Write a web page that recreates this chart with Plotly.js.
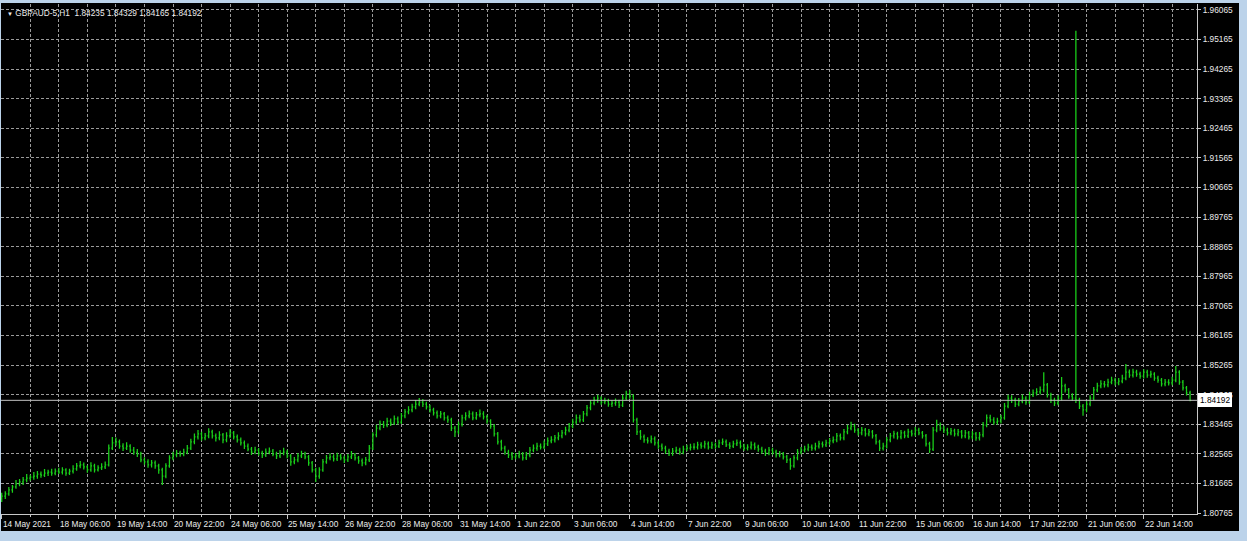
<!DOCTYPE html>
<html>
<head>
<meta charset="utf-8">
<script src="https://cdn.plot.ly/plotly-3.0.1.min.js"></script>
<style>
  html, body { margin: 0; padding: 0; width: 1247px; height: 541px; overflow: hidden; background: #bcd3ea; }
  #chart { position: absolute; left: 1px; top: 3px; width: 1238px; height: 528px; background: #000; }
</style>
</head>
<body>
<div id="chart"></div>
<script>
// GBPAUD-5, bars aggregated (2 bars of H1 per entry)
const openP = [
1.8122,1.8128,1.8135,1.8147,1.8156,1.8165,1.8171,1.8177,1.8183,1.8186,1.8189,1.8195,1.8192,1.8198,1.8201,1.8198,1.8204,1.8201,1.8208,1.8198,
1.8204,1.8211,1.8220,1.8223,1.8217,1.8208,1.8220,1.8208,1.8214,1.8217,1.8223,1.8274,1.8290,1.8293,1.8280,1.8274,1.8280,1.8268,1.8262,1.8256,
1.8238,1.8232,1.8223,1.8229,1.8220,1.8208,1.8189,1.8220,1.8244,1.8253,1.8259,1.8256,1.8262,1.8274,1.8293,1.8308,1.8317,1.8305,1.8311,1.8323,
1.8311,1.8305,1.8314,1.8299,1.8311,1.8320,1.8308,1.8299,1.8290,1.8280,1.8271,1.8262,1.8268,1.8259,1.8253,1.8262,1.8265,1.8256,1.8250,1.8259,
1.8262,1.8250,1.8232,1.8238,1.8250,1.8256,1.8247,1.8229,1.8208,1.8189,1.8208,1.8232,1.8244,1.8247,1.8241,1.8250,1.8244,1.8238,1.8247,1.8253,
1.8244,1.8235,1.8229,1.8238,1.8274,1.8314,1.8335,1.8347,1.8344,1.8356,1.8350,1.8363,1.8353,1.8372,1.8384,1.8390,1.8399,1.8408,1.8414,1.8408,
1.8399,1.8390,1.8381,1.8372,1.8378,1.8366,1.8360,1.8335,1.8323,1.8347,1.8366,1.8372,1.8378,1.8366,1.8375,1.8378,1.8369,1.8356,1.8341,1.8317,
1.8293,1.8274,1.8262,1.8253,1.8247,1.8250,1.8256,1.8244,1.8253,1.8268,1.8274,1.8280,1.8277,1.8287,1.8296,1.8299,1.8305,1.8311,1.8320,1.8329,
1.8341,1.8353,1.8366,1.8360,1.8378,1.8396,1.8411,1.8420,1.8426,1.8414,1.8417,1.8408,1.8411,1.8414,1.8405,1.8426,1.8439,1.8432,1.8360,1.8323,
1.8308,1.8299,1.8296,1.8302,1.8290,1.8280,1.8274,1.8265,1.8259,1.8265,1.8268,1.8262,1.8271,1.8274,1.8277,1.8277,1.8284,1.8280,1.8287,1.8277,
1.8284,1.8280,1.8290,1.8293,1.8284,1.8280,1.8287,1.8290,1.8280,1.8274,1.8277,1.8284,1.8277,1.8271,1.8265,1.8259,1.8268,1.8262,1.8253,1.8256,
1.8247,1.8238,1.8220,1.8244,1.8262,1.8268,1.8271,1.8277,1.8274,1.8280,1.8287,1.8284,1.8290,1.8296,1.8299,1.8311,1.8305,1.8323,1.8335,1.8341,
1.8329,1.8320,1.8329,1.8317,1.8323,1.8311,1.8293,1.8274,1.8280,1.8299,1.8311,1.8317,1.8308,1.8320,1.8311,1.8323,1.8317,1.8329,1.8320,1.8311,
1.8287,1.8271,1.8329,1.8344,1.8335,1.8329,1.8320,1.8326,1.8317,1.8323,1.8311,1.8320,1.8308,1.8317,1.8305,1.8314,1.8344,1.8366,1.8360,1.8353,
1.8356,1.8366,1.8402,1.8426,1.8420,1.8408,1.8417,1.8426,1.8414,1.8436,1.8442,1.8445,1.8451,1.8466,1.8436,1.8420,1.8411,1.8426,1.8463,1.8451,
1.8432,1.8426,1.8420,1.8402,1.8390,1.8408,1.8426,1.8451,1.8463,1.8469,1.8466,1.8475,1.8481,1.8472,1.8478,1.8487,1.8505,1.8496,1.8505,1.8499,
1.8493,1.8505,1.8496,1.8499,1.8487,1.8481,1.8469,1.8475,1.8472,1.8481,1.8505,1.8475,1.8457,1.8442
];
const highP = [
1.8138,1.8143,1.8156,1.8162,1.8177,1.8180,1.8186,1.8195,1.8193,1.8201,1.8204,1.8203,1.8210,1.8208,1.8211,1.8212,1.8214,1.8216,1.8213,1.8211,
1.8222,1.8229,1.8235,1.8230,1.8222,1.8231,1.8226,1.8222,1.8228,1.8233,1.8285,1.8308,1.8306,1.8300,1.8289,1.8292,1.8286,1.8277,1.8271,1.8263,
1.8246,1.8240,1.8238,1.8236,1.8226,1.8214,1.8228,1.8252,1.8263,1.8268,1.8266,1.8272,1.8283,1.8302,1.8318,1.8329,1.8324,1.8320,1.8334,1.8330,
1.8318,1.8325,1.8320,1.8322,1.8331,1.8326,1.8315,1.8306,1.8297,1.8288,1.8277,1.8278,1.8274,1.8266,1.8273,1.8276,1.8271,1.8263,1.8268,1.8275,
1.8269,1.8256,1.8247,1.8259,1.8266,1.8263,1.8253,1.8235,1.8214,1.8216,1.8241,1.8253,1.8258,1.8255,1.8260,1.8257,1.8251,1.8256,1.8265,1.8259,
1.8250,1.8242,1.8247,1.8283,1.8322,1.8345,1.8358,1.8356,1.8366,1.8364,1.8373,1.8370,1.8381,1.8393,1.8401,1.8409,1.8420,1.8426,1.8423,1.8415,
1.8406,1.8397,1.8388,1.8387,1.8384,1.8373,1.8366,1.8341,1.8355,1.8375,1.8383,1.8388,1.8385,1.8384,1.8391,1.8386,1.8375,1.8362,1.8347,1.8323,
1.8299,1.8281,1.8269,1.8262,1.8259,1.8266,1.8262,1.8262,1.8277,1.8285,1.8290,1.8288,1.8297,1.8306,1.8310,1.8314,1.8322,1.8329,1.8339,1.8350,
1.8363,1.8376,1.8375,1.8387,1.8405,1.8420,1.8430,1.8436,1.8432,1.8427,1.8424,1.8420,1.8425,1.8421,1.8436,1.8448,1.8451,1.8438,1.8366,1.8329,
1.8315,1.8307,1.8312,1.8309,1.8297,1.8288,1.8281,1.8272,1.8274,1.8278,1.8275,1.8281,1.8284,1.8287,1.8289,1.8293,1.8292,1.8296,1.8294,1.8293,
1.8291,1.8299,1.8303,1.8300,1.8292,1.8296,1.8300,1.8297,1.8287,1.8286,1.8294,1.8291,1.8284,1.8278,1.8272,1.8277,1.8275,1.8269,1.8265,1.8262,
1.8254,1.8244,1.8252,1.8271,1.8277,1.8281,1.8287,1.8285,1.8290,1.8296,1.8294,1.8299,1.8305,1.8309,1.8320,1.8318,1.8332,1.8345,1.8354,1.8348,
1.8335,1.8338,1.8335,1.8332,1.8329,1.8317,1.8299,1.8290,1.8308,1.8320,1.8327,1.8324,1.8329,1.8327,1.8333,1.8330,1.8338,1.8336,1.8326,1.8317,
1.8293,1.8338,1.8360,1.8352,1.8342,1.8336,1.8335,1.8333,1.8332,1.8329,1.8329,1.8326,1.8326,1.8323,1.8323,1.8353,1.8376,1.8375,1.8368,1.8366,
1.8375,1.8411,1.8436,1.8435,1.8427,1.8426,1.8437,1.8432,1.8445,1.8452,1.8456,1.8461,1.8505,1.8472,1.8442,1.8427,1.8435,1.8490,1.8470,1.8457,
1.8441,1.9543,1.8427,1.8408,1.8417,1.8435,1.8460,1.8473,1.8480,1.8478,1.8485,1.8491,1.8488,1.8487,1.8497,1.8530,1.8513,1.8515,1.8512,1.8506,
1.8514,1.8512,1.8509,1.8505,1.8494,1.8487,1.8484,1.8483,1.8491,1.8524,1.8511,1.8481,1.8463,1.8448
];
const lowP = [
1.8110,1.8119,1.8129,1.8138,1.8150,1.8158,1.8162,1.8170,1.8175,1.8178,1.8181,1.8184,1.8186,1.8189,1.8190,1.8191,1.8195,1.8194,1.8190,1.8192,
1.8197,1.8205,1.8213,1.8209,1.8199,1.8202,1.8200,1.8203,1.8207,1.8210,1.8218,1.8268,1.8281,1.8272,1.8265,1.8268,1.8260,1.8254,1.8247,1.8231,
1.8223,1.8214,1.8215,1.8211,1.8196,1.8162,1.8182,1.8214,1.8237,1.8246,1.8248,1.8249,1.8255,1.8268,1.8286,1.8300,1.8296,1.8298,1.8304,1.8303,
1.8294,1.8298,1.8289,1.8292,1.8304,1.8300,1.8291,1.8282,1.8271,1.8264,1.8253,1.8255,1.8251,1.8244,1.8247,1.8255,1.8249,1.8241,1.8244,1.8252,
1.8243,1.8220,1.8225,1.8231,1.8244,1.8240,1.8220,1.8200,1.8171,1.8181,1.8202,1.8226,1.8237,1.8233,1.8235,1.8237,1.8229,1.8232,1.8241,1.8236,
1.8226,1.8219,1.8222,1.8232,1.8268,1.8307,1.8328,1.8335,1.8337,1.8341,1.8344,1.8346,1.8347,1.8365,1.8377,1.8383,1.8392,1.8401,1.8399,1.8391,
1.8382,1.8373,1.8364,1.8365,1.8358,1.8351,1.8326,1.8308,1.8316,1.8340,1.8358,1.8365,1.8359,1.8360,1.8368,1.8361,1.8348,1.8333,1.8309,1.8285,
1.8266,1.8254,1.8244,1.8238,1.8240,1.8243,1.8236,1.8238,1.8246,1.8261,1.8266,1.8270,1.8271,1.8280,1.8289,1.8291,1.8298,1.8304,1.8313,1.8322,
1.8334,1.8346,1.8352,1.8353,1.8371,1.8389,1.8404,1.8412,1.8406,1.8407,1.8400,1.8399,1.8403,1.8396,1.8399,1.8419,1.8424,1.8352,1.8314,1.8299,
1.8290,1.8288,1.8289,1.8282,1.8272,1.8265,1.8256,1.8250,1.8251,1.8258,1.8254,1.8255,1.8264,1.8267,1.8269,1.8270,1.8272,1.8273,1.8270,1.8271,
1.8272,1.8274,1.8283,1.8277,1.8271,1.8274,1.8280,1.8273,1.8266,1.8267,1.8270,1.8269,1.8263,1.8257,1.8250,1.8252,1.8254,1.8245,1.8246,1.8239,
1.8229,1.8208,1.8214,1.8237,1.8255,1.8261,1.8264,1.8266,1.8267,1.8273,1.8276,1.8277,1.8283,1.8289,1.8292,1.8297,1.8298,1.8316,1.8328,1.8321,
1.8312,1.8313,1.8309,1.8310,1.8303,1.8285,1.8265,1.8267,1.8273,1.8292,1.8303,1.8300,1.8301,1.8304,1.8305,1.8309,1.8310,1.8313,1.8303,1.8279,
1.8259,1.8265,1.8322,1.8327,1.8320,1.8312,1.8313,1.8309,1.8310,1.8303,1.8304,1.8300,1.8301,1.8296,1.8297,1.8307,1.8337,1.8352,1.8345,1.8346,
1.8349,1.8360,1.8395,1.8411,1.8399,1.8401,1.8410,1.8406,1.8408,1.8429,1.8434,1.8437,1.8444,1.8428,1.8411,1.8402,1.8404,1.8419,1.8443,1.8424,
1.8417,1.8411,1.8393,1.8372,1.8383,1.8401,1.8419,1.8444,1.8456,1.8458,1.8459,1.8468,1.8464,1.8465,1.8471,1.8480,1.8488,1.8489,1.8491,1.8485,
1.8486,1.8488,1.8488,1.8479,1.8473,1.8461,1.8462,1.8464,1.8465,1.8474,1.8467,1.8449,1.8434,1.84165
];
const closeP = [
1.8128,1.8135,1.8147,1.8156,1.8165,1.8171,1.8177,1.8183,1.8186,1.8189,1.8195,1.8192,1.8198,1.8201,1.8198,1.8204,1.8201,1.8208,1.8198,1.8204,
1.8211,1.8220,1.8223,1.8217,1.8208,1.8220,1.8208,1.8214,1.8217,1.8223,1.8274,1.8290,1.8293,1.8280,1.8274,1.8280,1.8268,1.8262,1.8256,1.8238,
1.8232,1.8223,1.8229,1.8220,1.8208,1.8189,1.8220,1.8244,1.8253,1.8259,1.8256,1.8262,1.8274,1.8293,1.8308,1.8317,1.8305,1.8311,1.8323,1.8311,
1.8305,1.8314,1.8299,1.8311,1.8320,1.8308,1.8299,1.8290,1.8280,1.8271,1.8262,1.8268,1.8259,1.8253,1.8262,1.8265,1.8256,1.8250,1.8259,1.8262,
1.8250,1.8232,1.8238,1.8250,1.8256,1.8247,1.8229,1.8208,1.8189,1.8208,1.8232,1.8244,1.8247,1.8241,1.8250,1.8244,1.8238,1.8247,1.8253,1.8244,
1.8235,1.8229,1.8238,1.8274,1.8314,1.8335,1.8347,1.8344,1.8356,1.8350,1.8363,1.8353,1.8372,1.8384,1.8390,1.8399,1.8408,1.8414,1.8408,1.8399,
1.8390,1.8381,1.8372,1.8378,1.8366,1.8360,1.8335,1.8323,1.8347,1.8366,1.8372,1.8378,1.8366,1.8375,1.8378,1.8369,1.8356,1.8341,1.8317,1.8293,
1.8274,1.8262,1.8253,1.8247,1.8250,1.8256,1.8244,1.8253,1.8268,1.8274,1.8280,1.8277,1.8287,1.8296,1.8299,1.8305,1.8311,1.8320,1.8329,1.8341,
1.8353,1.8366,1.8360,1.8378,1.8396,1.8411,1.8420,1.8426,1.8414,1.8417,1.8408,1.8411,1.8414,1.8405,1.8426,1.8439,1.8432,1.8360,1.8323,1.8308,
1.8299,1.8296,1.8302,1.8290,1.8280,1.8274,1.8265,1.8259,1.8265,1.8268,1.8262,1.8271,1.8274,1.8277,1.8277,1.8284,1.8280,1.8287,1.8277,1.8284,
1.8280,1.8290,1.8293,1.8284,1.8280,1.8287,1.8290,1.8280,1.8274,1.8277,1.8284,1.8277,1.8271,1.8265,1.8259,1.8268,1.8262,1.8253,1.8256,1.8247,
1.8238,1.8220,1.8244,1.8262,1.8268,1.8271,1.8277,1.8274,1.8280,1.8287,1.8284,1.8290,1.8296,1.8299,1.8311,1.8305,1.8323,1.8335,1.8341,1.8329,
1.8320,1.8329,1.8317,1.8323,1.8311,1.8293,1.8274,1.8280,1.8299,1.8311,1.8317,1.8308,1.8320,1.8311,1.8323,1.8317,1.8329,1.8320,1.8311,1.8287,
1.8271,1.8329,1.8344,1.8335,1.8329,1.8320,1.8326,1.8317,1.8323,1.8311,1.8320,1.8308,1.8317,1.8305,1.8314,1.8344,1.8366,1.8360,1.8353,1.8356,
1.8366,1.8402,1.8426,1.8420,1.8408,1.8417,1.8426,1.8414,1.8436,1.8442,1.8445,1.8451,1.8466,1.8436,1.8420,1.8411,1.8426,1.8463,1.8451,1.8432,
1.8426,1.8420,1.8402,1.8390,1.8408,1.8426,1.8451,1.8463,1.8469,1.8466,1.8475,1.8481,1.8472,1.8478,1.8487,1.8505,1.8496,1.8505,1.8499,1.8493,
1.8505,1.8496,1.8499,1.8487,1.8481,1.8469,1.8475,1.8472,1.8481,1.8505,1.8475,1.8457,1.8442,1.84192
];
const timeLabels = ["14 May 2021","18 May 06:00","19 May 14:00","20 May 22:00","24 May 06:00","25 May 14:00",
  "26 May 22:00","28 May 06:00","31 May 14:00","1 Jun 22:00","3 Jun 06:00","4 Jun 14:00","7 Jun 22:00",
  "9 Jun 06:00","10 Jun 14:00","11 Jun 22:00","15 Jun 06:00","16 Jun 14:00","17 Jun 22:00","21 Jun 06:00","22 Jun 14:00"];
const priceLabels = ["1.80765","1.81665","1.82565","1.83465","1.84365","1.85265","1.86165","1.87065","1.87965",
  "1.88865","1.89765","1.90665","1.91565","1.92465","1.93365","1.94265","1.95165","1.96065"];
const titleText = "GBPAUD-5,H1";
const lastBar = ["1.84235","1.84329","1.84165","1.84192"];
const lastPrice = 1.84192;

const barsPerLabel = 16;
const xIdx = closeP.map((_, i) => i);
const xTicks = timeLabels.map((_, i) => i * barsPerLabel);
const yTicks = priceLabels.map(Number);

const FONT = "Liberation Sans, Arial, sans-serif";
const gridCol = "#9a9a9a";
const lineCol = "#c8c8c8";
const textCol = "#ececec";
const green = "#1ad21a";

const trace = {
  type: "ohlc",
  x: xIdx, open: openP, high: highP, low: lowP, close: closeP,
  increasing: { line: { color: green, width: 1.25 } },
  decreasing: { line: { color: green, width: 1.25 } },
  tickwidth: 0.3,
  hoverinfo: "skip",
  showlegend: false
};

const timeAnnotations = timeLabels.map((t, i) => ({
  xref: "x", yref: "paper", x: xTicks[i], y: 0, xanchor: "left", yanchor: "top",
  xshift: -1, yshift: -3, text: t, showarrow: false,
  font: { family: FONT, size: 8.3, color: textCol }
}));

const layout = {
  width: 1238, height: 528,
  margin: { l: 0, r: 42, t: 1, b: 17, pad: 0 },
  paper_bgcolor: "#000000",
  plot_bgcolor: "#000000",
  showlegend: false,
  font: { family: FONT, size: 8.3, color: textCol },
  xaxis: {
    range: [-0.2, 334.94],
    rangeslider: { visible: false },
    tickmode: "array", tickvals: xTicks, ticktext: timeLabels,
    showticklabels: false,
    ticks: "outside", ticklen: 4, tickcolor: lineCol, tickwidth: 1,
    showgrid: true, gridcolor: gridCol, griddash: "3px,2px", gridwidth: 1,
    minor: { dtick: 8, tick0: 0, showgrid: true, gridcolor: gridCol, griddash: "3px,2px", gridwidth: 1,
             ticks: "outside", ticklen: 2, tickcolor: lineCol },
    showline: true, linecolor: lineCol, linewidth: 1,
    zeroline: false, fixedrange: true
  },
  yaxis: {
    side: "right",
    range: [1.80735, 1.96247],
    tickmode: "array", tickvals: yTicks, ticktext: priceLabels,
    ticks: "outside", ticklen: 3, tickcolor: lineCol, tickwidth: 1,
    tickfont: { family: FONT, size: 8.3, color: textCol },
    showgrid: true, gridcolor: gridCol, griddash: "3px,2px", gridwidth: 1,
    showline: true, linecolor: lineCol, linewidth: 1,
    zeroline: false, fixedrange: true
  },
  shapes: [{
    type: "line", xref: "paper", yref: "y", x0: 0, x1: 1, y0: lastPrice, y1: lastPrice,
    line: { color: "#c0c0c0", width: 1 }
  }],
  annotations: timeAnnotations.concat([
    {
      xref: "paper", yref: "y", x: 1, y: lastPrice, xanchor: "left", yanchor: "middle", xshift: 1,
      text: lastPrice.toFixed(5), showarrow: false,
      font: { family: FONT, size: 8.3, color: "#000000" },
      bgcolor: "#ffffff", bordercolor: "#ffffff", borderwidth: 1, borderpad: 1
    },
    {
      xref: "paper", yref: "paper", x: 0.003, y: 0.982, xanchor: "left", yanchor: "middle",
      text: '<span style="font-size:6px">▼</span>&nbsp;' + titleText + '&nbsp;&nbsp;' + lastBar.join(' '),
      showarrow: false,
      font: { family: FONT, size: 8.3, color: textCol }
    }
  ])
};

Plotly.newPlot("chart", [trace], layout, { staticPlot: true, displayModeBar: false });
</script>
</body>
</html>
